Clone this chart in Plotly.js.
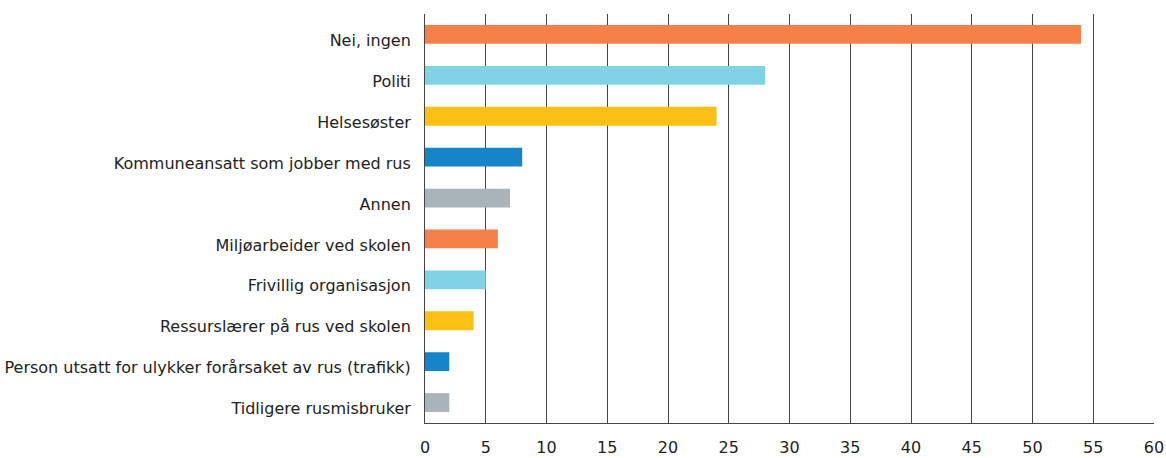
<!DOCTYPE html>
<html>
<head>
<meta charset="utf-8">
<script src="https://cdn.plot.ly/plotly-3.0.1.min.js"></script>
<style>html,body{margin:0;padding:0;background:#fff;}#chart{width:1166px;height:458px;}</style>
</head>
<body>
<div id="chart"></div>
<script>
const categories = [
  "Nei, ingen",
  "Politi",
  "Helsesøster",
  "Kommuneansatt som jobber med rus",
  "Annen",
  "Miljøarbeider ved skolen",
  "Frivillig organisasjon",
  "Ressurslærer på rus ved skolen",
  "Person utsatt for ulykker forårsaket av rus (trafikk)",
  "Tidligere rusmisbruker"
];
const values = [54, 28, 24, 8, 7, 6, 5, 4, 2, 2];
const colors = ["#F5804A", "#80D3E6", "#FBBF15", "#1684C9", "#A8B4BA",
                "#F5804A", "#80D3E6", "#FBBF15", "#1684C9", "#A8B4BA"];
const xTicks = [0, 5, 10, 15, 20, 25, 30, 35, 40, 45, 50, 55, 60];

const trace = {
  type: "bar",
  orientation: "h",
  x: values,
  y: categories,
  width: 0.46,
  marker: {color: colors},
  hoverinfo: "x+y"
};

const layout = {
  width: 1166,
  height: 458,
  margin: {l: 425, r: 12, t: 14, b: 35},
  paper_bgcolor: "#fff",
  plot_bgcolor: "#fff",
  showlegend: false,
  font: {family: "'DejaVu Sans', sans-serif", size: 16, color: "#222"},
  xaxis: {
    range: [0, 60],
    tickvals: xTicks,
    ticktext: xTicks.map(String),
    showgrid: true,
    gridcolor: "#444",
    gridwidth: 1,
    zeroline: false,
    showline: true,
    linecolor: "#444",
    linewidth: 1,
    ticks: "",
    ticklabelstandoff: 10,
    tickfont: {size: 16, color: "#222"},
    fixedrange: true
  },
  yaxis: {
    type: "category",
    autorange: false,
    range: [9.5, -0.5],
    showgrid: false,
    zeroline: false,
    showline: true,
    linecolor: "#444",
    linewidth: 1,
    ticks: "",
    ticklabelstandoff: 10,
    ticklabelshift: -6,
    tickfont: {size: 16, color: "#222"},
    fixedrange: true
  }
};

Plotly.newPlot("chart", [trace], layout, {displayModeBar: false, staticPlot: true});
</script>
</body>
</html>
